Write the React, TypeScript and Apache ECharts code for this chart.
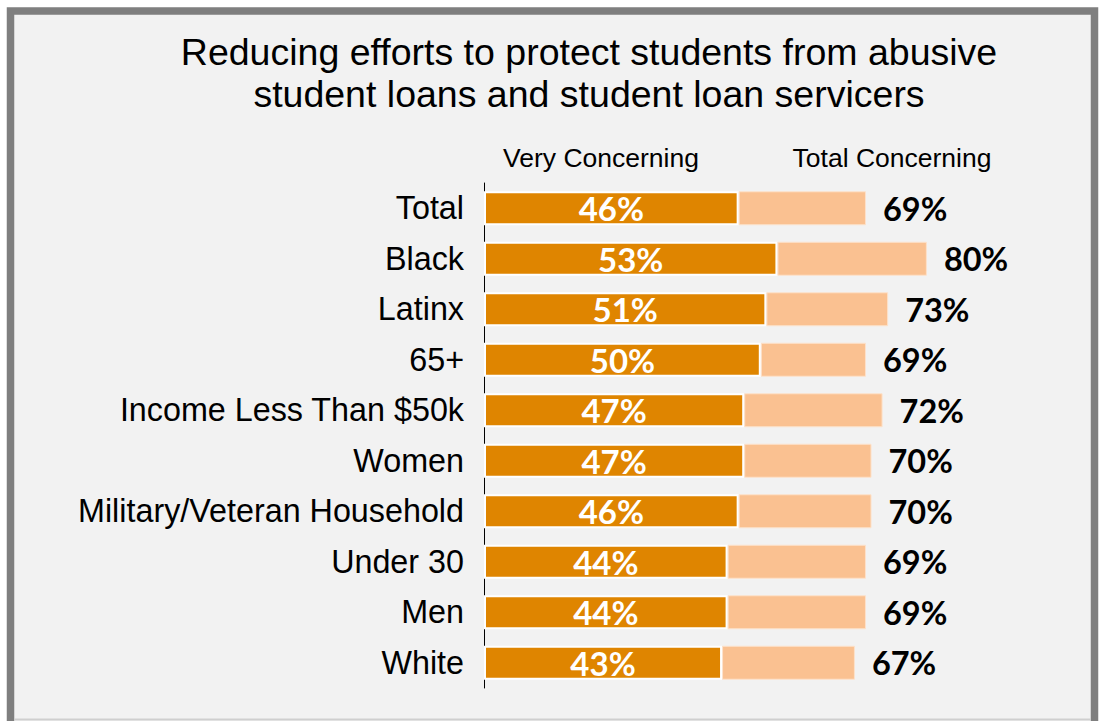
import React, { useEffect, useRef } from "react";
import * as echarts from "echarts";

const titleLines = [
  "Reducing efforts to protect students from abusive",
  "student loans and student loan servicers",
];
const seriesNames = ["Very Concerning", "Total Concerning"];
const categories = [
  "Total",
  "Black",
  "Latinx",
  "65+",
  "Income Less Than $50k",
  "Women",
  "Military/Veteran Household",
  "Under 30",
  "Men",
  "White",
];
const veryConcerning = [46, 53, 51, 50, 47, 47, 46, 44, 44, 43];
const totalConcerning = [69, 80, 73, 69, 72, 70, 70, 69, 69, 67];

export default function App() {
  const ref = useRef<HTMLDivElement>(null);

  useEffect(() => {
    if (!ref.current) return;
    const chart = echarts.init(ref.current, undefined, { renderer: "svg" });
    const remainder = totalConcerning.map((t, i) => t - veryConcerning[i]);
    const sans = "'Liberation Sans', Arial, sans-serif";
    const bold = "Lato, 'Open Sans', sans-serif";

    chart.setOption({
      animation: false,
      backgroundColor: "#ffffff",
      graphic: [
        {
          type: "rect",
          z: -10,
          silent: true,
          shape: { x: 10.5, y: 11, width: 1084, height: 730 },
          style: { fill: "#f2f2f2", stroke: "#7f7f7f", lineWidth: 7.5 },
        },
        {
          type: "line",
          z: -9,
          silent: true,
          shape: { x1: 14, y1: 719.5, x2: 1091, y2: 719.5 },
          style: { stroke: "#cfcfcf", lineWidth: 2 },
        },
      ],
      title: [
        {
          text: titleLines.join("\n"),
          left: 589,
          top: 31,
          textAlign: "center",
          padding: 0,
          textStyle: {
            fontFamily: sans,
            fontSize: 37.5,
            lineHeight: 42,
            fontWeight: "normal",
            color: "#000000",
          },
        },
        {
          text: seriesNames[0],
          left: 601,
          top: 143,
          textAlign: "center",
          padding: 0,
          textStyle: {
            fontFamily: sans,
            fontSize: 26.5,
            lineHeight: 30,
            fontWeight: "normal",
            color: "#000000",
          },
        },
        {
          text: seriesNames[1],
          left: 892,
          top: 143,
          textAlign: "center",
          padding: 0,
          textStyle: {
            fontFamily: sans,
            fontSize: 26.5,
            lineHeight: 30,
            fontWeight: "normal",
            color: "#000000",
          },
        },
      ],
      grid: { left: 484, top: 183, height: 505, width: 553.6, containLabel: false },
      xAxis: { type: "value", min: 0, max: 100, show: false },
      yAxis: {
        type: "category",
        inverse: true,
        data: categories,
        offset: 1,
        axisLine: { show: true, lineStyle: { color: "#000000", width: 1 } },
        axisTick: { show: false },
        splitLine: { show: false },
        axisLabel: {
          margin: 19,
          fontFamily: sans,
          fontSize: 32.3,
          color: "#000000",
        },
      },
      series: [
        {
          name: seriesNames[0],
          type: "bar",
          stack: "total",
          barWidth: 34,
          data: veryConcerning,
          itemStyle: { color: "#df8500", borderColor: "#ffffff", borderWidth: 2 },
          label: {
            show: true,
            position: "inside",
            formatter: "{c}%",
            color: "#ffffff",
            fontFamily: bold,
            fontWeight: "bold",
            fontSize: 33,
          },
        },
        {
          name: seriesNames[1],
          type: "bar",
          stack: "total",
          barWidth: 34,
          data: remainder,
          itemStyle: { color: "#fac191", borderColor: "#fde2cb", borderWidth: 1 },
          label: {
            show: true,
            position: "right",
            distance: 17,
            formatter: (p: any) => totalConcerning[p.dataIndex] + "%",
            color: "#000000",
            fontFamily: bold,
            fontWeight: "bold",
            fontSize: 32.5,
          },
        },
      ],
    });

    return () => chart.dispose();
  }, []);

  return (
    <div
      ref={ref}
      style={{ position: "fixed", left: 0, top: 0, width: 1100, height: 721 }}
    />
  );
}
